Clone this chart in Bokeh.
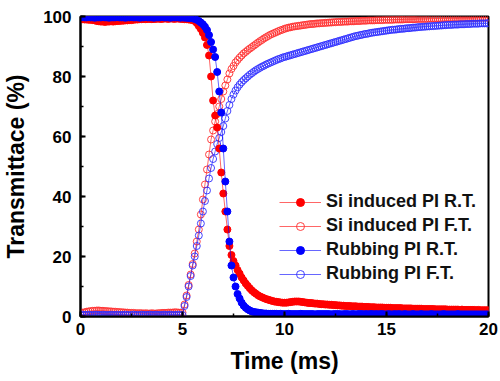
from bokeh.plotting import figure
from bokeh.models import Range1d, SingleIntervalTicker, Legend, LegendItem, ColumnDataSource
from bokeh.embed import file_html
from bokeh.resources import INLINE

# sample times (ms), one reading every 0.1 ms
time_ms = [round(i * 0.1, 1) for i in range(201)]

si_rt = [
    99.2, 99.1, 99.0, 99.0, 98.9, 98.9, 98.8, 98.7,
    98.5, 98.4, 98.3, 98.3, 98.2, 98.3, 98.3, 98.4, 98.3, 98.4, 98.5, 98.5, 98.6, 98.6, 98.7, 98.7, 98.8, 98.8,
    98.9, 99.0, 99.0, 99.1, 99.1, 99.2, 99.1, 99.2, 99.2, 99.1, 99.2, 99.2, 99.3, 99.2, 99.2, 99.3, 99.3, 99.2,
    99.3, 99.3, 99.2, 99.3, 99.3, 99.2, 99.2, 99.1, 99.1, 99.0, 98.9, 98.8,
    98.5, 97.8, 96.8, 95.8, 94.5, 93.0, 90.5, 87.0, 80.0, 72.0, 67.0, 63.0, 56.0, 48.0, 41.0, 35.0, 29.0, 23.5,
    20.5, 18.5, 17.0, 15.5, 14.3, 13.0,
    12.0, 11.0, 10.2, 9.4, 8.7, 8.1, 7.6, 7.1, 6.7, 6.4, 6.1, 5.8, 5.6, 5.4, 5.2, 5.0, 4.9, 4.8, 4.7, 4.6, 4.6,
    4.6, 4.7, 4.8, 4.9, 5.0, 5.0, 5.0, 4.9, 4.8, 4.7,
    4.6, 4.5, 4.5, 4.4, 4.3, 4.3, 4.2, 4.1, 4.1, 4.0,
    4.0, 3.9, 3.9, 3.8, 3.8, 3.7, 3.7, 3.6, 3.6, 3.5,
    3.5, 3.5, 3.4, 3.4, 3.4, 3.3, 3.3, 3.3, 3.2, 3.2,
    3.2, 3.1, 3.1, 3.1, 3.0, 3.0, 3.0, 3.0, 2.9, 2.9,
    2.9, 2.9, 2.8, 2.8, 2.8, 2.8, 2.8, 2.7, 2.7, 2.7,
    2.7, 2.7, 2.6, 2.6, 2.6, 2.6, 2.6, 2.5, 2.5, 2.5,
    2.5, 2.5, 2.5, 2.4, 2.4, 2.4, 2.4, 2.4, 2.4, 2.3,
    2.3, 2.3, 2.3, 2.3, 2.3, 2.2, 2.3, 2.2, 2.2, 2.2,
    2.2, 2.2, 2.2, 2.1, 2.2, 2.1, 2.1, 2.1, 2.1, 2.1,
]

si_ft = [
    1.2, 1.3, 1.4,
    1.6, 1.7, 1.8, 1.9, 1.9, 2.0, 2.0, 1.9, 1.9, 1.8, 1.8, 1.7, 1.7, 1.6, 1.6, 1.5, 1.5, 1.4,
    1.4, 1.3, 1.3, 1.2, 1.2, 1.2, 1.1, 1.1, 1.1, 1.1, 1.0, 1.1, 1.0, 1.0, 1.1, 1.0, 1.0, 1.1, 1.1, 1.2,
    1.2, 1.2, 1.3, 1.3, 1.3, 1.4, 1.4, 1.3, 1.3,
    1.3, 4.0, 7.0, 10.5, 14.0, 17.5, 21.0, 25.0, 29.0, 34.0, 39.0, 44.0, 49.0, 54.0, 59.0, 62.0, 65.0, 67.5,
    70.0, 72.5, 75.0, 77.0, 79.0, 81.0, 82.5, 83.5, 84.7, 85.5, 86.3, 87.0, 87.7, 88.2, 88.8, 89.3, 89.8,
    90.3, 90.8, 91.3, 91.8, 92.2, 92.7, 93.1, 93.5, 93.9, 94.2, 94.5, 94.8, 95.1, 95.4, 95.6, 95.9,
    96.1, 96.3, 96.4, 96.6, 96.7, 96.8, 96.9, 97.0, 97.1, 97.2,
    97.3, 97.4, 97.5, 97.5, 97.6, 97.7, 97.7, 97.8, 97.8, 97.9,
    97.9, 98.0, 98.0, 98.1, 98.1, 98.2, 98.2, 98.2, 98.3, 98.3,
    98.3, 98.4, 98.4, 98.4, 98.5, 98.5, 98.5, 98.6, 98.6, 98.6,
    98.7, 98.7, 98.7, 98.7, 98.8, 98.8, 98.8, 98.8, 98.9, 98.9,
    98.9, 98.9, 98.9, 99.0, 99.0, 99.0, 99.0, 99.0, 99.1, 99.1,
    99.1, 99.1, 99.1, 99.1, 99.2, 99.2, 99.2, 99.2, 99.2, 99.2,
    99.3, 99.3, 99.3, 99.3, 99.3, 99.3, 99.3, 99.4, 99.4, 99.4,
    99.4, 99.4, 99.4, 99.4, 99.4, 99.5, 99.5, 99.5, 99.5, 99.5,
    99.5, 99.5, 99.5, 99.5, 99.6, 99.6, 99.6, 99.6, 99.6, 99.6,
]

rub_rt = [
    99.7, 99.8, 99.7, 99.7, 99.8, 99.7, 99.7, 99.6, 99.7, 99.7,
    99.7, 99.8, 99.7, 99.7, 99.6, 99.7, 99.7, 99.7, 99.8, 99.7,
    99.7, 99.7, 99.6, 99.7, 99.7, 99.8, 99.7, 99.7, 99.7, 99.6,
    99.7, 99.7, 99.8, 99.7, 99.7, 99.7, 99.6, 99.7, 99.7, 99.7,
    99.8, 99.7, 99.7, 99.7, 99.6, 99.7, 99.7, 99.7, 99.7, 99.6,
    99.7, 99.6, 99.6, 99.5, 99.5, 99.4,
    99.2, 98.9, 98.5, 98.0, 97.4, 96.6, 95.5, 93.8, 91.5, 89.0, 86.5, 81.5, 75.0, 68.0, 56.0, 45.0, 35.0,
    25.0, 17.0, 13.0, 10.0, 7.5, 6.0, 4.6, 3.6, 2.9, 2.4, 2.0, 1.7, 1.5, 1.4, 1.3, 1.2, 1.1, 1.0,
    1.0, 0.9, 0.9, 0.9, 0.9, 0.9, 0.8, 0.9, 0.8, 0.8,
    0.8, 0.9, 0.8, 0.8, 0.8, 0.8, 0.8, 0.9, 0.8, 0.8,
    0.8, 0.8, 0.8, 0.8, 0.7, 0.8, 0.8, 0.8, 0.8, 0.8,
    0.8, 0.8, 0.7, 0.8, 0.8, 0.8, 0.8, 0.7, 0.8, 0.8,
    0.8, 0.7, 0.8, 0.8, 0.7, 0.8, 0.8, 0.8, 0.7, 0.8,
    0.7, 0.8, 0.8, 0.7, 0.8, 0.7, 0.8, 0.8, 0.7, 0.7,
    0.8, 0.7, 0.7, 0.8, 0.7, 0.8, 0.7, 0.7, 0.8, 0.7,
    0.7, 0.7, 0.8, 0.7, 0.7, 0.7, 0.8, 0.7, 0.7, 0.7,
    0.7, 0.8, 0.7, 0.7, 0.7, 0.7, 0.7, 0.8, 0.7, 0.7,
    0.7, 0.7, 0.7, 0.7, 0.8, 0.7, 0.7, 0.7, 0.7, 0.7,
    0.7, 0.7, 0.7, 0.7, 0.7, 0.7, 0.7, 0.7, 0.7, 0.7,
]

rub_ft = [
    0.5, 0.6, 0.5, 0.5, 0.6, 0.5, 0.5, 0.6, 0.6, 0.5,
    0.5, 0.6, 0.5, 0.5, 0.5, 0.6, 0.5, 0.5, 0.6, 0.5,
    0.5, 0.5, 0.6, 0.5, 0.5, 0.5, 0.6, 0.5, 0.5, 0.5,
    0.6, 0.5, 0.5, 0.5, 0.6, 0.5, 0.5, 0.6, 0.5, 0.5,
    0.5, 0.6, 0.5, 0.5, 0.6, 0.5, 0.5, 0.5, 0.6, 0.5,
    0.5, 3.5, 6.5, 10.0, 13.5, 17.0, 20.0, 23.5, 27.0, 31.0, 35.0, 38.5, 42.0, 46.0, 49.5, 52.5, 55.0,
    57.5, 59.5, 61.5, 63.5, 66.0, 68.5, 70.5, 72.5, 74.0, 75.3, 76.4, 77.3, 78.1, 78.8, 79.4, 80.0, 80.6,
    81.1, 81.6, 82.1, 82.5, 82.9, 83.3, 83.6, 84.0, 84.3, 84.6, 84.9, 85.2, 85.5, 85.8, 86.0, 86.3, 86.5,
    86.7, 86.9, 87.1, 87.3, 87.5, 87.7, 87.9, 88.1, 88.3, 88.5,
    88.7, 88.9, 89.1, 89.3, 89.5, 89.7, 89.9, 90.1, 90.3, 90.5,
    90.7, 90.9, 91.1, 91.3, 91.5, 91.7, 91.9, 92.1, 92.3, 92.5,
    92.7, 92.9, 93.1, 93.3, 93.5, 93.6, 93.8, 93.9, 94.1, 94.2,
    94.3, 94.5, 94.6, 94.7, 94.8, 94.9, 95.0, 95.1, 95.2, 95.3,
    95.4, 95.5, 95.6, 95.6, 95.7, 95.8, 95.9, 95.9, 96.0, 96.1,
    96.1, 96.2, 96.3, 96.3, 96.4, 96.5, 96.5, 96.6, 96.6, 96.7,
    96.7, 96.8, 96.8, 96.9, 96.9, 97.0, 97.0, 97.1, 97.1, 97.2,
    97.2, 97.2, 97.3, 97.3, 97.3, 97.4, 97.4, 97.4, 97.5, 97.5,
    97.5, 97.6, 97.6, 97.6, 97.6, 97.7, 97.7, 97.7, 97.7, 97.8,
]

labels = ["Si induced PI R.T.", "Si induced PI F.T.", "Rubbing PI R.T.", "Rubbing PI F.T."]
x_title = "Time (ms)"
y_title = "Transmittace (%)"
x_ticks_step = 5
y_ticks_step = 20

FONT = "Liberation Sans"
RED = "#ff0000"
BLUE = "#0000ff"

p = figure(width=500, height=381, output_backend="svg", toolbar_location=None,
           x_range=Range1d(0, 20), y_range=Range1d(0, 100),
           min_border_left=77, min_border_right=12, min_border_top=16, min_border_bottom=65)
p.background_fill_color = "white"
p.border_fill_color = "white"
p.grid.visible = False
p.outline_line_color = "black"
p.outline_line_width = 2

src = ColumnDataSource(dict(t=time_ms, a=si_rt, b=si_ft, c=rub_rt, d=rub_ft))

l_b = p.line("t", "b", source=src, line_color=RED, line_width=1, line_alpha=0.6)
s_b = p.scatter("t", "b", source=src, marker="circle", size=7, fill_color=None,
                line_color="#ff3030", line_width=1, line_alpha=0.9)
l_d = p.line("t", "d", source=src, line_color=BLUE, line_width=1, line_alpha=0.6)
s_d = p.scatter("t", "d", source=src, marker="circle", size=7, fill_color=None,
                line_color="#3030ff", line_width=1, line_alpha=0.9)
l_a = p.line("t", "a", source=src, line_color=RED, line_width=1, line_alpha=0.6)
s_a = p.scatter("t", "a", source=src, marker="circle", size=7, fill_color=RED, line_color=RED)
l_c = p.line("t", "c", source=src, line_color=BLUE, line_width=1, line_alpha=0.6)
s_c = p.scatter("t", "c", source=src, marker="circle", size=7, fill_color=BLUE, line_color=BLUE)

legend = Legend(items=[
    LegendItem(label=labels[0], renderers=[l_a, s_a]),
    LegendItem(label=labels[1], renderers=[l_b, s_b]),
    LegendItem(label=labels[2], renderers=[l_c, s_c]),
    LegendItem(label=labels[3], renderers=[l_d, s_d]),
], location=(199, 32))
legend.background_fill_alpha = 0
legend.border_line_color = None
legend.padding = 0
legend.margin = 0
legend.spacing = 3
legend.glyph_width = 42
legend.glyph_height = 20
legend.label_height = 20
legend.label_standoff = 5
legend.label_text_font = FONT
legend.label_text_font_style = "bold"
legend.label_text_font_size = "18px"
legend.label_text_color = "#111111"
p.add_layout(legend, "center")

p.xaxis.ticker = SingleIntervalTicker(interval=x_ticks_step, num_minor_ticks=2)
p.yaxis.ticker = SingleIntervalTicker(interval=y_ticks_step, num_minor_ticks=2)

for ax in (p.xaxis, p.yaxis):
    ax.axis_line_width = 2
    ax.axis_line_color = "black"
    ax.major_tick_in = 5
    ax.major_tick_out = 0
    ax.minor_tick_in = 3
    ax.minor_tick_out = 0
    ax.major_tick_line_width = 2
    ax.minor_tick_line_width = 1.5
    ax.major_label_text_font = FONT
    ax.major_label_text_font_style = "bold"
    ax.major_label_text_font_size = "17px"
    ax.major_label_text_color = "black"
    ax.axis_label_text_font = FONT
    ax.axis_label_text_font_style = "bold"
    ax.axis_label_text_font_size = "23px"
    ax.axis_label_text_color = "black"

p.xaxis.axis_label = x_title
p.yaxis.axis_label = y_title
p.xaxis.major_label_standoff = 6
p.xaxis.axis_label_standoff = 10
p.yaxis.major_label_standoff = 9
p.yaxis.axis_label_standoff = 11

open("out.html", "w").write(file_html(p, INLINE))
